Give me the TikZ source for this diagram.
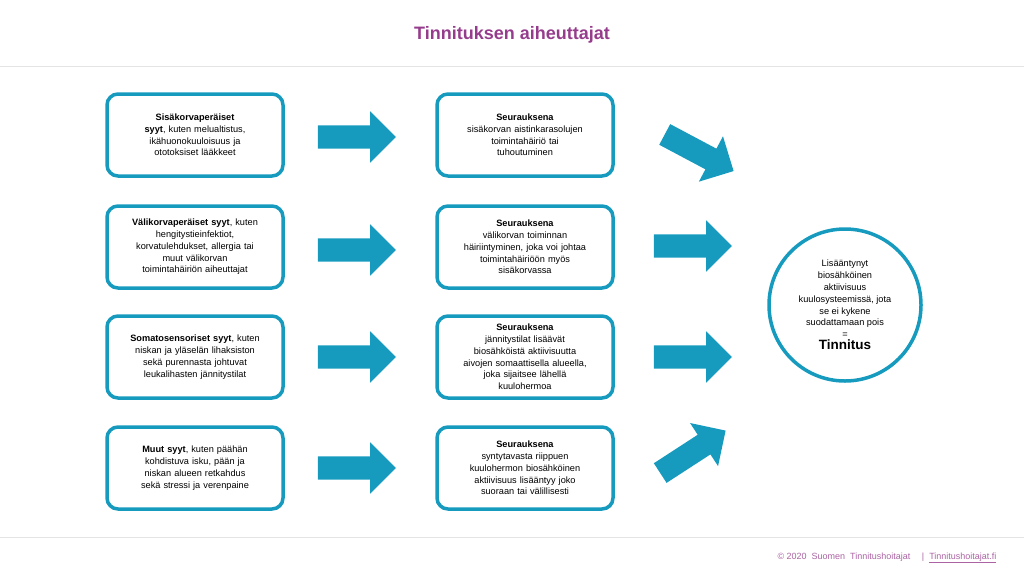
\documentclass[tikz,border=0pt]{standalone}
\usepackage{fontspec}
\setmainfont{Liberation Sans}
\usetikzlibrary{shapes.arrows}
\definecolor{tq}{RGB}{22,155,190}
\definecolor{pu}{RGB}{150,60,140}
\definecolor{ln}{RGB}{228,228,228}
\tikzset{
 box/.style={draw=tq,line width=3.5pt,rounded corners=11pt,minimum width=176pt,minimum height=82pt,align=center,font=\fontsize{9.2}{11.8}\selectfont,inner sep=2pt,text width=172pt},
 barrow/.style={single arrow,fill=tq,draw=none,minimum height=78pt,inner sep=11.5pt,single arrow head extend=14pt,single arrow tip angle=90},
}
\begin{document}
\begin{tikzpicture}[x=1pt,y=-1pt]
\useasboundingbox (0,0) rectangle (1024,576);
\node[font=\bfseries\fontsize{18}{20}\selectfont,text=pu] (title) at (512,35) {Tinnituksen aiheuttajat};
\draw[ln,line width=1pt] (0,66) coordinate (l1) -- (1024,66) coordinate (l2);
\draw[ln,line width=1pt] (0,537) coordinate (l3) -- (1024,537) coordinate (l4);
\node[box] (a1) at (195,135) {\textbf{Sisäkorvaperäiset}\\\textbf{syyt}, kuten melualtistus,\\ikähuonokuuloisuus ja\\ototoksiset lääkkeet};
\node[box] (a2) at (195,247) {\textbf{Välikorvaperäiset syyt}, kuten\\hengitystieinfektiot,\\korvatulehdukset, allergia tai\\muut välikorvan\\toimintahäiriön aiheuttajat};
\node[box] (a3) at (195,357) {\textbf{Somatosensoriset syyt}, kuten\\niskan ja yläselän lihaksiston\\sekä purennasta johtuvat\\leukalihasten jännitystilat};
\node[box] (a4) at (195,468) {\textbf{Muut syyt}, kuten päähän\\kohdistuva isku, pään ja\\niskan alueen retkahdus\\sekä stressi ja verenpaine};
\node[box] (b1) at (525,135) {\textbf{Seurauksena}\\sisäkorvan aistinkarasolujen\\toimintahäiriö tai\\tuhoutuminen};
\node[box] (b2) at (525,247) {\textbf{Seurauksena}\\välikorvan toiminnan\\häiriintyminen, joka voi johtaa\\toimintahäiriöön myös\\sisäkorvassa};
\node[box] (b3) at (525,357) {\textbf{Seurauksena}\\jännitystilat lisäävät\\biosähköistä aktiivisuutta\\aivojen somaattisella alueella,\\joka sijaitsee lähellä\\kuulohermoa};
\node[box] (b4) at (525,468) {\textbf{Seurauksena}\\syntytavasta riippuen\\kuulohermon biosähköinen\\aktiivisuus lisääntyy joko\\suoraan tai välillisesti};
\node[barrow] (p1) at (351,137) {};
\node[barrow] (p2) at (351,250) {};
\node[barrow] (p3) at (351,357) {};
\node[barrow] (p4) at (351,468) {};
\node[barrow,rotate=-28] (q1) at (694,150) {};
\node[barrow] (q2) at (687,246) {};
\node[barrow] (q3) at (687,357) {};
\node[barrow,rotate=33] (q4) at (688,455) {};
\node[circle,draw=tq,line width=3.5pt,minimum size=152pt,align=center,font=\fontsize{9.2}{11.8}\selectfont,inner sep=0pt] (c) at (845,305) {Lisääntynyt\\biosähköinen\\aktiivisuus\\kuulosysteemissä, jota\\se ei kykene\\suodattamaan pois\\=\\{\bfseries\fontsize{13.5}{16}\selectfont Tinnitus}};
\node[anchor=east,text=pu!80,font=\fontsize{9}{10}\selectfont] (ft) at (1000,558) {© 2020 \ Suomen \ Tinnitushoitajat \quad | \ \underline{Tinnitushoitajat.fi}};
\end{tikzpicture}
\end{document}
